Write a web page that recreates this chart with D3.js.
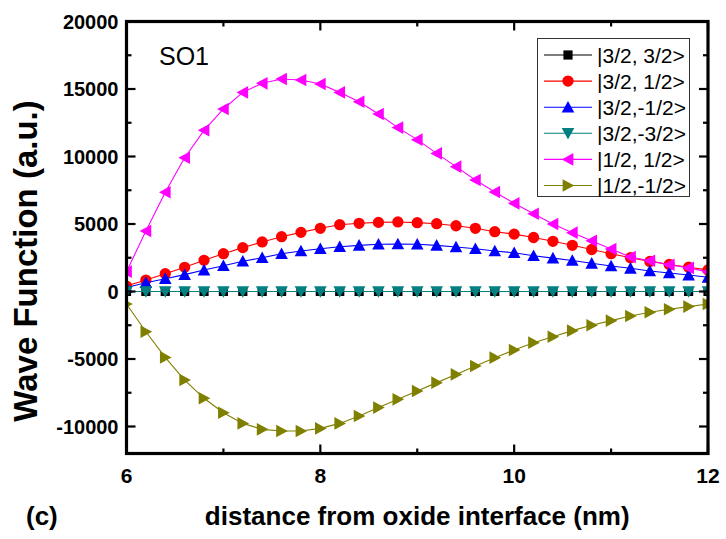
<!DOCTYPE html>
<html>
<head>
<meta charset="utf-8">
<script src="https://cdn.jsdelivr.net/npm/d3@7"></script>
<style>
  html, body { margin: 0; padding: 0; background: #fff; }
  svg { display: block; font-family: Arial, "Liberation Sans", sans-serif; }
</style>
</head>
<body>
<svg id="chart" width="726" height="539"></svg>
<script>
// Sample positions (nm) along the growth direction
const distance = [6.0, 6.2, 6.4, 6.6, 6.8, 7.0, 7.2, 7.4, 7.6, 7.8, 8.0,
                  8.2, 8.4, 8.6, 8.8, 9.0, 9.2, 9.4, 9.6, 9.8, 10.0,
                  10.2, 10.4, 10.6, 10.8, 11.0, 11.2, 11.4, 11.6, 11.8, 12.0];

// Wave-function components of the SO1 state (a.u.)
const hh32 = [0, 0, 0, 0, 0, 0, 0, 0, 0, 0, 0,
              0, 0, 0, 0, 0, 0, 0, 0, 0, 0,
              0, 0, 0, 0, 0, 0, 0, 0, 0, 0];
const lh12 = [400, 850, 1320, 1790, 2310, 2800, 3250, 3670, 4060, 4380, 4680,
              4950, 5050, 5120, 5150, 5100, 5020, 4870, 4680, 4430, 4250,
              4000, 3720, 3420, 3110, 2800, 2500, 2230, 2000, 1800, 1600];
const lhm12 = [300, 650, 950, 1250, 1590, 1910, 2240, 2500, 2800, 3000, 3170,
               3320, 3420, 3500, 3520, 3500, 3420, 3300, 3170, 3000, 2870,
               2650, 2470, 2300, 2090, 1890, 1720, 1520, 1370, 1220, 1050];
const hhm32 = [0, 0, 0, 0, 0, 0, 0, 0, 0, 0, 0,
               0, 0, 0, 0, 0, 0, 0, 0, 0, 0,
               0, 0, 0, 0, 0, 0, 0, 0, 0, 0];
const so12 = [1470, 4480, 7350, 9910, 11940, 13520, 14750, 15420, 15740, 15670, 15370,
              14750, 14060, 13150, 12140, 11250, 10230, 9250, 8260, 7370, 6530,
              5760, 5000, 4360, 3760, 3150, 2550, 2280, 1980, 1750, 1450];
const som12 = [-930, -2980, -4880, -6560, -7910, -8980, -9770, -10210, -10330, -10330, -10140,
               -9770, -9220, -8600, -7990, -7370, -6750, -6140, -5520, -4900, -4330,
               -3790, -3350, -2900, -2500, -2160, -1810, -1540, -1320, -1120, -930];

const seriesNames = ["|3/2, 3/2>", "|3/2, 1/2>", "|3/2,-1/2>", "|3/2,-3/2>", "|1/2, 1/2>", "|1/2,-1/2>"];
const seriesColors = ["#000000", "#ff0000", "#0000ff", "#008080", "#ff00ff", "#808000"];
const seriesShapes = ["square", "circle", "up", "down", "left", "right"];
const seriesValues = [hh32, lh12, lhm12, hhm32, so12, som12];

const xTicks = [6, 8, 10, 12];
const xMinorTicks = [7, 9, 11];
const yTicks = [-10000, -5000, 0, 5000, 10000, 15000, 20000];
const yMinorTicks = [-7500, -2500, 2500, 7500, 12500, 17500];

const svg = d3.select("#chart");
const frame = { left: 126.5, right: 708, top: 21.5, bottom: 453.5 };

const x = d3.scaleLinear().domain([6, 12]).range([frame.left, frame.right]);
const y = d3.scaleLinear().domain([-12000, 20000]).range([frame.bottom, frame.top]);

// Marker path for each symbol type, centred on the origin
function markerPath(shape) {
  const s = 6.3;
  switch (shape) {
    case "square": return `M${-4.6},${-4.6}H4.6V4.6H-4.6Z`;
    case "circle": return d3.symbol(d3.symbolCircle, 100)();
    case "up": return `M0,${-s}L${s},${s * 0.85}L${-s},${s * 0.85}Z`;
    case "down": return `M0,${s}L${s},${-s * 0.85}L${-s},${-s * 0.85}Z`;
    case "left": return `M${-s},0L${s * 0.85},${-s}L${s * 0.85},${s}Z`;
    case "right": return `M${s},0L${-s * 0.85},${-s}L${-s * 0.85},${s}Z`;
  }
}

svg.append("defs").append("clipPath").attr("id", "plot-clip")
  .append("rect").attr("x", frame.left).attr("y", frame.top)
  .attr("width", frame.right - frame.left).attr("height", frame.bottom - frame.top);

const plot = svg.append("g").attr("clip-path", "url(#plot-clip)");

const line = d3.line().x((d, i) => x(distance[i])).y(d => y(d));

seriesValues.forEach((vals, k) => {
  const g = plot.append("g");
  g.append("path").datum(vals)
    .attr("d", line)
    .attr("fill", "none")
    .attr("stroke", seriesColors[k])
    .attr("stroke-width", 1.1);
  g.selectAll("path.mk").data(vals).join("path")
    .attr("class", "mk")
    .attr("d", markerPath(seriesShapes[k]))
    .attr("transform", (d, i) => `translate(${x(distance[i])},${y(d)})`)
    .attr("fill", seriesColors[k]);
});

// Axes: ticks point inward on all four sides
const axisG = svg.append("g");
const tickStroke = 2.2;

function hTicks(vals, len, yPos, dir) {
  axisG.selectAll(null).data(vals).join("line")
    .attr("x1", d => x(d)).attr("x2", d => x(d))
    .attr("y1", yPos).attr("y2", yPos + dir * len)
    .attr("stroke", "#000").attr("stroke-width", tickStroke);
}
function vTicks(vals, len, xPos, dir) {
  axisG.selectAll(null).data(vals).join("line")
    .attr("y1", d => y(d)).attr("y2", d => y(d))
    .attr("x1", xPos).attr("x2", xPos + dir * len)
    .attr("stroke", "#000").attr("stroke-width", tickStroke);
}
hTicks(xTicks, 9, frame.bottom, -1);
hTicks(xMinorTicks, 5, frame.bottom, -1);
hTicks(xTicks, 9, frame.top, 1);
hTicks(xMinorTicks, 5, frame.top, 1);
vTicks(yTicks, 9, frame.left, 1);
vTicks(yMinorTicks, 5, frame.left, 1);
vTicks(yTicks, 9, frame.right, -1);
vTicks(yMinorTicks, 5, frame.right, -1);

axisG.append("rect")
  .attr("x", frame.left).attr("y", frame.top)
  .attr("width", frame.right - frame.left).attr("height", frame.bottom - frame.top)
  .attr("fill", "none").attr("stroke", "#000").attr("stroke-width", 3.2);

// Tick labels
axisG.selectAll(null).data(xTicks).join("text")
  .attr("x", d => x(d)).attr("y", 483)
  .attr("text-anchor", "middle")
  .attr("font-size", 21).attr("font-weight", "bold")
  .text(d => d);

axisG.selectAll(null).data(yTicks).join("text")
  .attr("x", frame.left - 8).attr("y", d => y(d))
  .attr("dy", "0.36em")
  .attr("text-anchor", "end")
  .attr("font-size", 20).attr("font-weight", "bold")
  .text(d => d);

// Axis titles
svg.append("text")
  .attr("x", (frame.left + frame.right) / 2).attr("y", 525)
  .attr("text-anchor", "middle")
  .attr("font-size", 26).attr("font-weight", "bold")
  .text("distance from oxide interface (nm)");

svg.append("text")
  .attr("transform", "translate(37,261) rotate(-90)")
  .attr("text-anchor", "middle")
  .attr("font-size", 33).attr("font-weight", "bold")
  .text("Wave Function (a.u.)");

svg.append("text")
  .attr("x", 26).attr("y", 525)
  .attr("font-size", 26).attr("font-weight", "bold")
  .text("(c)");

svg.append("text")
  .attr("x", 159).attr("y", 65)
  .attr("font-size", 25)
  .text("SO1");

// Legend
const legend = svg.append("g");
legend.append("rect")
  .attr("x", 537.5).attr("y", 38.5)
  .attr("width", 152).attr("height", 158)
  .attr("fill", "#fff").attr("stroke", "#333").attr("stroke-width", 1);

seriesNames.forEach((name, k) => {
  const ly = 55 + k * 26.1;
  legend.append("line")
    .attr("x1", 544).attr("x2", 592).attr("y1", ly).attr("y2", ly)
    .attr("stroke", seriesColors[k]).attr("stroke-width", 1.1);
  legend.append("path")
    .attr("d", markerPath(seriesShapes[k]))
    .attr("transform", `translate(568,${ly})`)
    .attr("fill", seriesColors[k]);
  legend.append("text")
    .attr("x", 597).attr("y", ly).attr("dy", "0.36em")
    .attr("font-size", 21)
    .text(name);
});
</script>
</body>
</html>
